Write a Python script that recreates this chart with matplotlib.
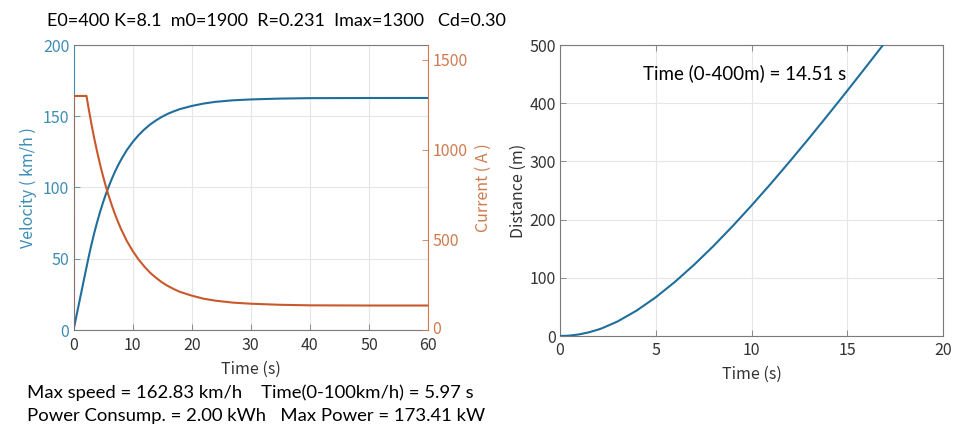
import matplotlib
matplotlib.use("Agg")
import matplotlib.pyplot as plt
import matplotlib.transforms as mtransforms

# ---- data ----
t_vel = [0, 1, 2, 2.2, 2.5, 3, 3.5, 4, 4.5, 5, 5.5, 6, 6.5, 7, 7.5, 8, 9, 10, 11, 12, 13, 14, 15, 16,
         17, 18, 20, 22, 24, 27, 30, 35, 40, 50, 60]
velocity = [0, 20, 40, 44, 50.0, 59.3, 67.9, 75.7, 82.9, 89.5, 95.6, 101.1, 106.2, 110.9, 115.2, 119.1,
            126.1, 131.8, 136.7, 140.8, 144.3, 147.2, 149.7, 151.8, 153.5, 155.0, 157.2, 158.9, 160.1,
            161.2, 161.8, 162.4, 162.7, 162.8, 162.83]

t_cur = [0, 0.02, 2.2, 2.5, 3, 3.5, 4, 4.5, 5, 5.5, 6, 6.5, 7, 7.5, 8, 9, 10, 11, 12, 13, 14, 15, 16,
         17, 18, 20, 22, 24, 27, 30, 35, 40, 50, 60]
current = [0, 1300, 1300, 1242, 1150, 1066, 990, 919, 854, 795, 741, 691, 645, 603, 564, 496, 440, 392,
           352, 317, 289, 264, 244, 227, 212, 191, 174, 163, 152, 146, 140, 137, 136, 136]

t_dist = [0, 0.5, 1, 1.5, 2, 2.2, 3, 4, 5, 6, 7, 8, 9, 10, 11, 12, 13, 14, 15, 16, 17, 18, 19, 20]
distance = [0, 0.69, 2.78, 6.25, 11.1, 13.4, 24.9, 43.7, 66.6, 93.1, 122.5, 154.4, 188.5, 224.4,
            261.7, 300.4, 340.0, 380.6, 421.9, 463.8, 506.2, 549.0, 592.0, 636.0]

left_xticks = [0, 10, 20, 30, 40, 50, 60]
vel_ticks = [0, 50, 100, 150, 200]
cur_ticks = [0, 500, 1000, 1500]
right_xticks = [0, 5, 10, 15, 20]
dist_ticks = [0, 100, 200, 300, 400, 500]

title_text = "E0=400 K=8.1  m0=1900  R=0.231  Imax=1300   Cd=0.30"
info1 = "Max speed = 162.83 km/h    Time(0-100km/h) = 5.97 s"
info2 = "Power Consump. = 2.00 kWh   Max Power = 173.41 kW"
dist_note = "Time (0-400m) = 14.51 s"

# ---- style ----
BLUE = "#1f6e9c"
BLUE_T = "#3d8db5"
ORANGE = "#c9582c"
ORANGE_T = "#d07a4e"
GRID = "#e6e6e6"
SPINE = "#7a7a7a"
TICKFONT = ["Noto Sans CJK JP", "DejaVu Sans"]
TEXTFONT = ["Lato", "DejaVu Sans"]

W, H = 971, 436
fig = plt.figure(figsize=(W / 100, H / 100), dpi=100)


def rect(x0, y0, x1, y1):
    return [x0 / W, 1 - y1 / H, (x1 - x0) / W, (y1 - y0) / H]


# ---- left: velocity & current ----
ax1 = fig.add_axes(rect(73.5, 45, 428, 330))
ax1.plot(t_vel, velocity, color=BLUE, lw=1.5, zorder=3)
ax1.set_xlim(0, 60)
ax1.set_ylim(0, 200)
ax1.set_xticks(left_xticks)
ax1.set_yticks(vel_ticks)
ax1.grid(True, color=GRID, lw=0.8)
ax1.set_axisbelow(True)
ax1.tick_params(direction="in", length=4, width=0.6, labelsize=11.5, pad=3, colors=SPINE)
ax1.tick_params(axis="y", colors=BLUE_T)
ax1.tick_params(axis="x", labelcolor="#333333", pad=5)
for lab in ax1.get_xticklabels() + ax1.get_yticklabels():
    lab.set_family(TICKFONT)
ax1.set_xlabel("Time (s)", fontsize=11.5, family=TICKFONT, color="#333333", labelpad=5)
ax1.set_ylabel("Velocity ( km/h )", fontsize=11.5, family=TICKFONT, color=BLUE_T, labelpad=4)
for s in ["top", "bottom"]:
    ax1.spines[s].set_color(SPINE)
ax1.spines["left"].set_color(BLUE_T)
ax1.spines["right"].set_visible(False)

ax2 = ax1.twinx()
ax2.plot(t_cur, current, color=ORANGE, lw=1.5, zorder=3)
ax2.set_ylim(0, 1583)
ax2.set_yticks(cur_ticks)
ax2.tick_params(direction="in", length=4, width=0.6, labelsize=11.5, pad=3, colors=ORANGE_T)
for lab in ax2.get_yticklabels():
    lab.set_family(TICKFONT)
# nudge the bottom "0" label up slightly, as in the reference
lab0 = ax2.get_yticklabels()[0]
lab0.set_transform(lab0.get_transform() + mtransforms.ScaledTranslation(0, 3 / 100, fig.dpi_scale_trans))
ax2.set_ylabel("Current ( A )", fontsize=11.5, family=TICKFONT, color=ORANGE_T, labelpad=5)
ax2.spines["right"].set_color(ORANGE_T)
for s in ["top", "bottom", "left"]:
    ax2.spines[s].set_visible(False)

# ---- right: distance ----
ax3 = fig.add_axes(rect(560, 45, 943.3, 336))
ax3.plot(t_dist, distance, color=BLUE, lw=1.5, zorder=3)
ax3.set_xlim(0, 20)
ax3.set_ylim(0, 500)
ax3.set_xticks(right_xticks)
ax3.set_yticks(dist_ticks)
ax3.grid(True, color=GRID, lw=0.8)
ax3.set_axisbelow(True)
ax3.tick_params(direction="in", length=4, width=0.6, labelsize=11.5, pad=3, colors=SPINE,
                labelcolor="#333333", top=True, right=True)
ax3.tick_params(axis="x", pad=4)
for lab in ax3.get_xticklabels() + ax3.get_yticklabels():
    lab.set_family(TICKFONT)
ax3.set_xlabel("Time (s)", fontsize=11.5, family=TICKFONT, color="#333333", labelpad=5)
ax3.set_ylabel("Distance (m)", fontsize=11.5, family=TICKFONT, color="#333333", labelpad=2)
for s in ax3.spines.values():
    s.set_color(SPINE)
ax3.text(4.33, 452, dist_note, fontsize=13.5, family=TEXTFONT, color="black", va="center")

# ---- figure texts ----
fig.text(47 / W, 1 - 21 / H, title_text, fontsize=13, family=TEXTFONT, va="center", ha="left")
fig.text(27 / W, 1 - 393 / H, info1, fontsize=13.3, family=TEXTFONT, va="center", ha="left")
fig.text(27 / W, 1 - 416 / H, info2, fontsize=13.3, family=TEXTFONT, va="center", ha="left")

fig.savefig("out.png", dpi=100)
